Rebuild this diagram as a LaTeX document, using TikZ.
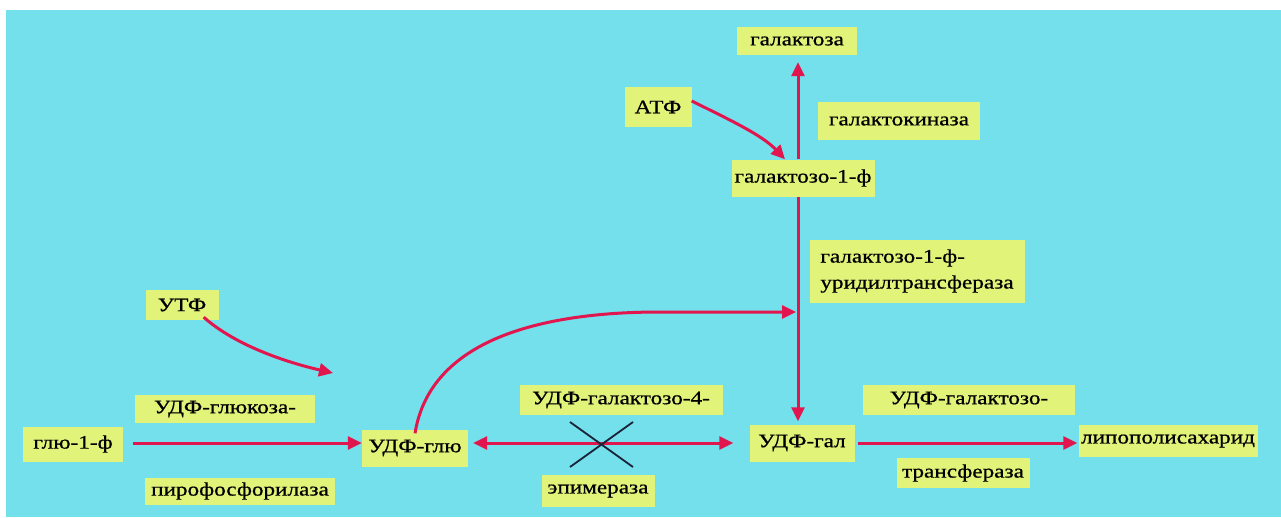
\documentclass[tikz,border=0pt]{standalone}
\usepackage{fontspec}
\setmainfont{Liberation Serif}[FakeStretch=1.22,FakeBold=0.7]
\usetikzlibrary{arrows.meta}
\definecolor{bgcyan}{RGB}{116,224,236}
\definecolor{boxyel}{RGB}{226,243,122}
\definecolor{arrred}{RGB}{226,22,78}
\definecolor{crossc}{RGB}{25,35,55}
\begin{document}
\begin{tikzpicture}[x=1pt,y=-1pt,
  lbl/.style={fill=boxyel, inner sep=0pt, font=\fontsize{19}{21}\selectfont, text=black},
  arr/.style={draw=arrred, line width=3pt, -{Triangle[length=14pt,width=13pt]}},
  darr/.style={draw=arrred, line width=3pt, {Triangle[length=14pt,width=13pt]}-{Triangle[length=14pt,width=13pt]}},
  crossline/.style={draw=crossc, line width=1.8pt}]
\useasboundingbox (0,0) rectangle (1281,517);
\fill[bgcyan] (6,10) rectangle (1281,517);

% nodes
\node[lbl, minimum width=120pt, minimum height=28pt] (galaktoza) at (797,41) {галактоза};
\node[lbl, minimum width=67pt, minimum height=40pt] (atf) at (658,107) {АТФ};
\node[lbl, minimum width=162pt, minimum height=38pt] (kinaza) at (899,121) {галактокиназа};
\node[lbl, minimum width=143pt, minimum height=37pt] (gal1f) at (803,178) {галактозо-1-ф};
\node[lbl, minimum width=215pt, minimum height=63pt, align=left, font=\fontsize{19}{26}\selectfont] (uridil) at (917,271) {галактозо-1-ф-\\уридилтрансфераза};
\node[lbl, minimum width=73pt, minimum height=30pt] (utf) at (182,305) {УТФ};
\node[lbl, minimum width=180pt, minimum height=28pt] (pirof1) at (225,409) {УДФ-глюкоза-};
\node[lbl, minimum width=100pt, minimum height=35pt] (glu1f) at (73,444) {глю-1-ф};
\node[lbl, minimum width=190pt, minimum height=27pt] (pirof2) at (240,491) {пирофосфорилаза};
\node[lbl, minimum width=106pt, minimum height=37pt] (udfglu) at (415,448) {УДФ-глю};
\node[lbl, minimum width=203pt, minimum height=30pt] (epim1) at (621,400) {УДФ-галактозо-4-};
\node[lbl, minimum width=113pt, minimum height=32pt] (epim2) at (598,491) {эпимераза};
\node[lbl, minimum width=105pt, minimum height=37pt] (udfgal) at (802,443) {УДФ-гал};
\node[lbl, minimum width=212pt, minimum height=30pt] (trans1) at (969,400) {УДФ-галактозо-};
\node[lbl, minimum width=133pt, minimum height=30pt] (trans2) at (963,473) {трансфераза};
\node[lbl, minimum width=179pt, minimum height=32pt] (lipo) at (1168,441) {липополисахарид};

% helper coordinates
\coordinate (vx) at (798,0);
\coordinate (hy) at (0,443);
\coordinate (join) at (796,312);
\coordinate (utfend) at (333,373);
\coordinate (xa) at (570,422);
\coordinate (xb) at (633,467);
\coordinate (xc) at (633,422);
\coordinate (xd) at (570,467);

% connectors
\draw[arr, shorten >=7pt] (gal1f.north -| vx) -- (galaktoza.south -| vx);
\draw[arr, shorten >=3pt] (gal1f.south -| vx) -- (udfgal.north -| vx);
\draw[arr] ([yshift=6pt]atf.east) .. controls (730,120) and (762,135) .. ([xshift=-18pt]gal1f.north);
\draw[arr] ([xshift=-15pt,yshift=3pt]utf.south east) .. controls (235,345) and (285,362) .. (utfend);
\draw[arr] ([yshift=-4pt]udfglu.north) .. controls (430,340) and (540,312) .. (660,312) -- (join);
\draw[arr, shorten <=10pt] (glu1f.east |- hy) -- (udfglu.west |- hy);
\draw[darr, shorten <=5pt, shorten >=16pt] (udfglu.east |- hy) -- (udfgal.west |- hy);
\draw[arr, shorten <=3pt, shorten >=1pt] (udfgal.east |- hy) -- (lipo.west |- hy);
\draw[crossline] (xa) -- (xb);
\draw[crossline] (xc) -- (xd);
\end{tikzpicture}
\end{document}
